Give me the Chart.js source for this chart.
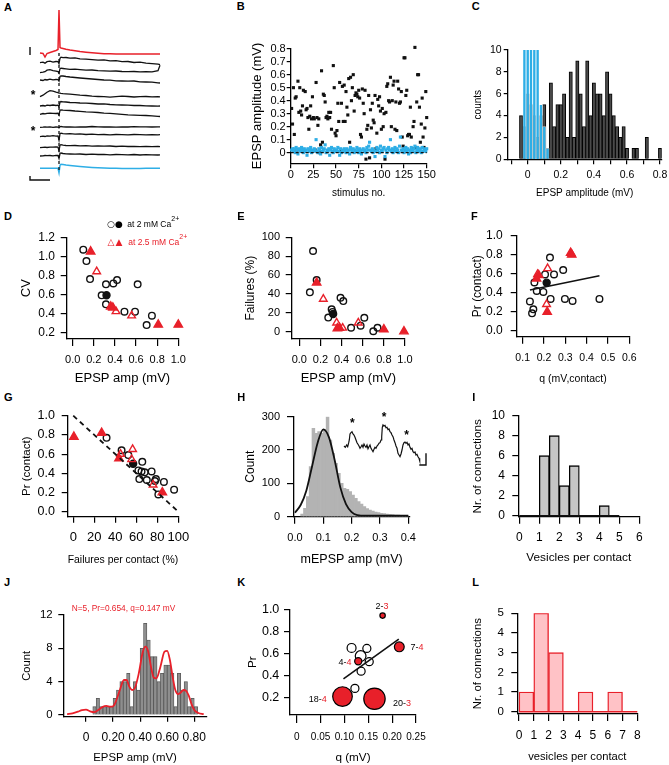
<!DOCTYPE html>
<html>
<head>
<meta charset="utf-8">
<script src="https://cdn.jsdelivr.net/npm/chart.js@4.4.1/dist/chart.umd.min.js"></script>
<style>
  html, body { margin: 0; padding: 0; background: #fff; overflow: hidden; }
  #fig { position: relative; width: 669px; height: 765px; font-family: 'Liberation Sans', Arial, sans-serif; color: #000; }
  #fig canvas { position: absolute; }
  .txt { position: absolute; line-height: 1; white-space: nowrap; }
</style>
</head>
<body>
<div id="fig"></div>
<script>
/* ---------- data ---------- */

// A: example sweeps, sampled at aTimes (ms), amplitudes relative to each sweep baseline
const aTimes = [0,3,5,7,10,13,16,18,19,20,21,23,26,30,35,40,46,52,58,64,70,76,82,88,94,100,106,112,118,120];
const aPreAP = [0,-0.05,-0.4,-0.05,0.05,0.15,0.25,0.35,4.3,0.55,0.5,0.45,0.38,0.3,0.22,0.15,0.08,0.02,-0.03,-0.07,-0.08,-0.1,-0.1,-0.1,-0.1,-0.1,-0.1,-0.1,-0.1,-0.1];
const aSweeps = [
  [0,0.05,-0.05,0.1,0.15,0.05,0.12,0.1,-0.1,0.45,0.55,0.5,0.52,0.45,0.48,0.38,0.35,0.3,0.25,0.28,0.18,0.2,0.1,0.12,0.02,0.05,-0.05,-0.1,-0.15,-0.2],
  [0,0.05,0.1,0.25,0.3,0.2,0.15,0.12,-0.05,0.4,0.45,0.42,0.38,0.33,0.35,0.3,0.25,0.27,0.2,0.18,0.15,0.17,0.12,0.1,0.12,0.08,0.1,0.08,0.2,0.75],
  [0,-0.05,0.05,0,0.08,0.02,0.05,0.03,-0.12,0.35,0.42,0.4,0.35,0.3,0.25,0.2,0.15,0.1,0.05,0,-0.02,-0.08,-0.1,-0.12,-0.1,-0.18,-0.2,-0.22,-0.28,-0.3],
  [0,0.15,0.3,0.45,0.6,0.55,0.45,0.4,0.35,0.35,0.33,0.3,0.28,0.25,0.2,0.15,0.12,0.05,0.02,0,-0.05,0,0.05,0.02,-0.03,0,0.02,-0.02,0,-0.02],
  [0,0.05,0,0.08,0.05,0.1,0.05,0.08,-0.1,0.38,0.45,0.42,0.4,0.35,0.33,0.3,0.28,0.25,0.2,0.22,0.15,0.12,0.1,0.08,0.05,0.05,0.02,0,-0.02,0],
  [0,0.08,0.05,0.1,0.12,0.1,0.08,0.1,-0.08,0.4,0.45,0.42,0.4,0.38,0.33,0.3,0.25,0.22,0.18,0.12,0.1,0.05,0,-0.05,-0.08,-0.1,-0.12,-0.15,-0.2,-0.22],
  [0,0.02,0.05,0.02,0.05,0,0.03,0.02,-0.05,0.05,0.08,0.05,0.03,0.05,0.02,0.05,0.03,0.08,0.05,0.03,0.05,0.02,0.05,0.03,0.06,0.04,0.05,0.03,0.05,0.05],
  [0,0.05,0.02,0.08,0.05,0.1,0.05,0.08,-0.35,0.3,0.35,0.3,0.28,0.3,0.25,0.28,0.22,0.25,0.2,0.22,0.18,0.22,0.2,0.18,0.22,0.2,0.18,0.2,0.18,0.2],
  [0,0.03,0.05,0.02,0.06,0.05,0.08,0.05,-0.3,0.25,0.3,0.25,0.22,0.2,0.22,0.18,0.2,0.15,0.18,0.15,0.17,0.12,0.15,0.12,0.14,0.1,0.12,0.1,0.12,0.1],
  [0,0.02,0.05,0.03,0.05,0.02,0.06,0.05,-0.25,0.25,0.3,0.25,0.22,0.2,0.18,0.2,0.15,0.18,0.15,0.16,0.12,0.15,0.13,0.12,0.15,0.1,0.13,0.12,0.1,0.12]
];
const aAverage = [0,0,0,0,0,0,0,0,-0.45,0.3,0.4,0.38,0.33,0.28,0.22,0.17,0.12,0.08,0.05,0.03,0.01,0,-0.02,-0.02,-0.02,-0.01,0,0,0,0];
const aPreBase = -3.8;
const aSweepBase = [-4.77,-5.77,-6.5,-8.17,-9.1,-9.93,-11.23,-12.17,-13.27,-14.1];
const aAverageBase = -15.33;
const aStimLine = [[19,-3.8],[19,-15.7]];
const aBarTop = [[-10,-3.2],[-10,-4.0]];
const aBarBottom = [[-10,-16.1],[-10,-16.5],[10,-16.5]];

// B: EPSP amplitude per stimulus (black) and baseline noise (blue)
const bResponse = [
  0.34,0.22,0.50,0.14,0.42,0.43,0.02,0.55,0.31,0.50,
  0.32,0.29,0.36,0.48,0.01,0.47,0.33,0.34,0.27,0.18,
  0.28,0.36,0.26,0.43,0.27,0.26,0.02,0.54,0.27,0.21,
  0.26,0.00,0.06,0.63,0.08,0.45,0.44,0.39,0.27,0.28,
  0.26,0.31,0.27,0.31,0.18,0.01,0.67,0.50,0.15,0.13,
  0.17,0.38,0.24,0.54,0.01,0.38,0.51,0.24,0.52,0.24,
  0.47,0.35,0.29,0.57,0.08,0.58,0.40,0.50,0.60,0.32,
  0.44,0.46,0.45,0.43,0.48,0.42,0.14,0.12,0.49,0.38,
  0.30,0.48,-0.05,0.18,0.21,0.44,-0.04,0.33,0.19,0.38,
  0.25,0.23,0.44,0.03,0.15,0.41,0.36,0.43,0.32,0.18,
  0.34,0.20,0.30,-0.05,0.31,0.51,0.53,0.40,0.39,0.58,
  0.20,0.40,0.52,0.55,0.18,0.39,0.17,0.55,0.49,0.38,
  0.39,0.47,0.12,0.05,0.73,0.73,0.44,0.48,0.13,0.14,
  0.14,0.35,0.12,0.03,0.20,0.24,0.81,0.04,0.39,0.60,
  0.60,0.35,0.08,0.22,0.42,0.12,0.04,0.19,0.47,0.27
];
const bNoise = [
  0.02,0.03,0.01,0.03,0.00,0.04,0.02,-0.01,0.03,0.02,
  0.01,0.04,0.02,0.00,0.03,0.01,0.02,-0.02,0.03,0.01,
  0.02,0.04,0.00,0.02,0.01,0.03,0.02,0.10,0.01,0.00,
  0.03,0.02,-0.01,0.04,0.01,0.02,0.03,0.06,0.00,0.02,
  0.01,0.03,-0.02,0.02,0.04,0.01,0.00,0.03,0.02,0.01,
  0.02,0.04,0.01,-0.02,0.03,0.00,0.02,0.01,0.03,0.02,
  0.00,0.03,0.01,0.02,-0.01,0.04,0.02,0.01,0.03,0.00,
  0.02,0.01,0.04,0.02,0.00,0.03,0.01,-0.01,0.02,0.03,
  0.01,0.02,0.00,0.04,0.02,0.05,0.08,0.02,0.01,0.03,
  0.00,0.02,-0.03,0.01,0.04,0.02,0.03,0.00,0.05,0.02,
  0.01,0.03,0.04,-0.03,0.02,0.00,0.03,0.04,0.02,0.10,
  0.01,0.03,0.00,0.02,0.04,0.01,0.03,0.02,0.00,0.05,
  0.12,0.02,0.01,0.03,0.00,0.02,0.04,0.01,0.03,-0.01,
  0.02,0.00,0.04,0.02,0.01,0.03,0.05,0.00,0.02,0.04,
  0.01,0.03,0.02,0.00,0.04,0.01,0.03,0.02,0.01,0.03
];
const bZeroLine = [[0,0],[150,0]];

// C: amplitude histograms
const cBins = [-0.04,-0.02,0,0.02,0.04,0.06,0.08,0.10,0.12,0.14,0.16,0.18,0.20,0.22,0.24,0.26,0.28,0.30,0.32,0.34,0.36,0.38,0.40,0.42,0.44,0.46,0.48,0.50,0.52,0.54,0.56,0.58,0.60,0.62,0.64,0.66,0.68,0.70,0.72,0.74,0.76,0.78,0.80];
const cResponse = [4,3,6,5,4,2,4,5,1,7,3,5,5,6,2,8,2,9,6,3,9,4,7,6,6,4,8,6,4,3,2,3,1,0,1,1,0,0,2,0,0,0,1];
const cNoiseBins = [-0.04,-0.02,0,0.02,0.04,0.06,0.08,0.10,0.12];
const cNoise = [0,14,22,25,18,12,5,3,1];

// D-G: per connection values (x, y); 2 mM and 2.5 mM Ca2+
const dOpen2 = [[0.10,1.07],[0.13,0.95],[0.164,0.76],[0.274,0.59],[0.315,0.705],[0.315,0.495],[0.385,0.715],[0.42,0.75],[0.49,0.418],[0.59,0.418],[0.615,0.705],[0.70,0.277],[0.75,0.375]];
const dMean2 = [[0.32,0.59]];
const dOpen25 = [[0.227,0.84],[0.41,0.42],[0.558,0.375]];
const dFilled25 = [[0.17,1.05],[0.36,0.47],[0.38,0.46],[0.81,0.28],[1.0,0.28]];

const eOpen2 = [[0.13,85.5],[0.10,41.7],[0.164,54.8],[0.306,23.7],[0.315,21],[0.274,15],[0.39,36],[0.416,32.5],[0.49,4.2],[0.58,6.4],[0.615,14.8],[0.70,0.5],[0.74,4.2]];
const eMean2 = [[0.32,18.7]];
const eOpen25 = [[0.227,34.6],[0.353,9.5],[0.41,4],[0.558,9.5]];
const eFilled25 = [[0.164,52],[0.36,3.5],[0.38,4],[0.80,2.5],[0.99,0.3]];

const fOpen2 = [[0.134,0.31],[0.15,0.227],[0.144,0.185],[0.155,0.51],[0.166,0.42],[0.197,0.41],[0.205,0.594],[0.228,0.77],[0.231,0.336],[0.247,0.594],[0.29,0.64],[0.298,0.336],[0.334,0.315],[0.46,0.336]];
const fMean2 = [[0.2125,0.507]];
const fOpen25 = [[0.17,0.594],[0.217,0.657],[0.212,0.28]];
const fFilled25 = [[0.165,0.55],[0.175,0.585],[0.215,0.2],[0.325,0.82],[0.33,0.80]];
const fFit = [[0.134,0.43],[0.46,0.58]];

const gOpen2 = [[31.7,0.77],[46,0.64],[52.4,0.59],[65.7,0.52],[62,0.43],[62.9,0.34],[65,0.42],[68,0.41],[70,0.33],[74.6,0.42],[77.8,0.32],[78.7,0.34],[81,0.18],[86.3,0.31],[96,0.23]];
const gMean2 = [[57,0.50]];
const gOpen25 = [[45,0.60],[56.5,0.65],[55.6,0.545],[76,0.28]];
const gFilled25 = [[0.6,0.78],[27,0.82],[43.5,0.555],[84.8,0.20]];
const gIdentity = [[0,1.0],[100,0.0]];

// H: mEPSP amplitude histogram, gaussian fit, inset trace
const hBins = [0.025,0.035,0.045,0.055,0.065,0.075,0.085,0.095,0.105,0.115,0.125,0.135,0.145,0.155,0.165,0.175,0.185,0.195,0.205,0.215,0.225,0.235,0.245,0.255,0.265,0.275,0.285,0.295,0.305,0.315,0.325,0.335,0.345,0.355,0.365,0.375,0.385,0.395];
const hCounts = [8,25,60,150,265,250,255,250,262,300,230,190,160,130,100,85,82,75,65,55,45,38,30,24,20,17,14,12,10,9,8,7,6,5,5,4,3,3];
const hFit = [[0,12],[0.02,35],[0.04,78],[0.06,150],[0.08,222],[0.1,262],[0.12,238],[0.14,170],[0.16,88],[0.18,38],[0.2,14],[0.22,5],[0.25,3],[0.3,3],[0.35,3],[0.4,3]];
const hInsetT = [0,1.3,2.7,3.7,4.7,5.3,6,7,8,9,10,11,12,13,14,15,16,17,18,19,20,21,22,23,24,25,26,27,28,29,30,31,32,33,34,35,36,37,37.7,38.3,39,40,41,42,43,44,45,46,47,48,49,50,51,52,53,54,55,56,57,58,59,60,61,62,63,64,65,66,67,68,69,70,71,72,73,74,75,75.7];
const hInsetV = [0,-1.3,1,-0.7,3.3,6,12,13.3,14.3,12,11,8.7,6,3.3,1.7,0,-2.3,-0.7,1,-1.3,2,0,-1.3,1,-2.7,-0.7,1,-2.3,-4,-5.7,-3.3,-1.3,-2.3,0,1,2.7,3.3,6,9.3,18.7,21,20,20.7,18.3,18.7,16.3,17,14.3,13.3,11,9.3,6,3.3,0,-2.3,-7.3,-9,-10.7,-8,-4,1,3.3,4,2.7,3.7,1,2,-1.3,-3.3,-2.3,-5.7,-6.7,-6,-9,-8.3,-10.7,-12.3,-14.7];
const hInsetBar = [[75.3,-19],[82,-19],[82,-7.3]];

// I: vesicles per contact
const iBins = [0.25,0.75,1.25,1.75,2.25,2.75,3.25,3.75,4.25,4.75];
const iCounts = [0,0,6,8,3,5,0,0,1,0];
const iBaseline = [[0,0],[5,0]];

// J: EPSP amplitude histogram with binomial fit
const jBins = [0.0625,0.0875,0.1125,0.1375,0.1625,0.1875,0.2125,0.2375,0.2625,0.2875,0.3125,0.3375,0.3625,0.3875,0.4125,0.4375,0.4625,0.4875,0.5125,0.5375,0.5625,0.5875,0.6125,0.6375,0.6625,0.6875,0.7125,0.7375,0.7625,0.7875,0.8125];
const jCounts = [1,2,1,1,1,1,2,3,4,4,5,1,4,3,8,11,9,7,7,4,5,6,6,5,1,5,3,4,1,2,1];
const jFit = [[-0.14,0.1],[-0.1,0.2],[-0.06,0.4],[-0.03,0.6],[0,0.65],[0.03,0.45],[0.06,0.35],[0.09,0.6],[0.12,0.95],[0.15,1.1],[0.18,1.0],[0.2,1.05],[0.22,1.6],[0.25,3.0],[0.28,4.2],[0.3,4.2],[0.32,3.4],[0.34,3.0],[0.36,3.2],[0.39,5.0],[0.42,7.6],[0.44,8.2],[0.46,7.6],[0.48,5.8],[0.5,4.5],[0.52,4.4],[0.55,5.8],[0.58,7.6],[0.6,7.7],[0.62,6.6],[0.64,4.6],[0.66,3.0],[0.68,2.5],[0.7,2.7],[0.72,3.0],[0.74,2.9],[0.76,2.3],[0.78,1.3],[0.8,0.6],[0.83,0.25],[0.87,0.1]];

// K: q vs Pr, bubble size = number of contacts
const kFilled = [[0.18,0.943],[0.215,0.66],[0.129,0.53],[0.096,0.21],[0.163,0.19]];
const kFilledN = [2,7,4,18,20];
const kFilledM = [3,4,4,4,3];
const kOpen = [[0.115,0.65],[0.147,0.646],[0.134,0.577],[0.152,0.526],[0.135,0.44],[0.122,0.284]];
const kOpenN = [6,5,8,5,5,5];
const kFit = [[0.098,0.37],[0.214,0.73]];

// L: vesicles per contact (2.5 mM)
const lBins = [0.5,1.5,2.5,3.5,4.5,5.5,6.5,7.5];
const lCounts = [1,5,3,0,1,0,1,0];
const lBaseline = [[0,0],[8,0]];

/* ---------- helpers ---------- */
const RED = '#e8202a', BLUE = '#2eaee6', INK = '#111';
const fig = document.getElementById('fig');
Chart.defaults.font.family = "'Liberation Sans', Arial, sans-serif";
Chart.defaults.color = '#000';

const pts = arr => arr.map(([x, y]) => ({ x, y }));
const zip = (xs, ys) => xs.map((x, i) => ({ x, y: ys[i] }));

function scat(arr, style, color, filled, r) {
  return { type: 'scatter', data: pts(arr), pointStyle: style, pointRadius: r,
    pointBorderColor: color, pointBackgroundColor: filled ? color : 'rgba(0,0,0,0)',
    pointBorderWidth: 1.4, showLine: false, clip: false };
}
function line(data, color, width, dash, smooth) {
  return { type: 'line', data: data, borderColor: color, borderWidth: width, borderDash: dash || [],
    pointRadius: 0, fill: false, tension: 0, cubicInterpolationMode: smooth ? 'monotone' : 'default', clip: false };
}
function bars(xs, ys, fillC, edge, bw, extra) {
  return Object.assign({ type: 'bar', data: zip(xs, ys), backgroundColor: fillC, borderColor: edge,
    borderWidth: bw, barPercentage: 1, categoryPercentage: 1, grouped: false }, extra || {});
}
function put(html, x, y, size, o) {
  o = o || {};
  const d = document.createElement('div');
  d.className = 'txt';
  d.innerHTML = html;
  d.style.left = x + 'px';
  d.style.top = y + 'px';
  d.style.fontSize = size + 'px';
  if (o.color) d.style.color = o.color;
  if (o.bold) d.style.fontWeight = 'bold';
  if (o.font) d.style.fontFamily = o.font;
  d.style.transform = o.center ? 'translate(-50%,-50%)' : 'translateY(-50%)';
  fig.appendChild(d);
}
function canvasAt(left, top, w, h) {
  const cv = document.createElement('canvas');
  cv.width = w; cv.height = h;
  cv.style.left = left + 'px'; cv.style.top = top + 'px';
  cv.style.width = w + 'px'; cv.style.height = h + 'px';
  fig.appendChild(cv);
  return cv;
}
function axis(s, fixed) {
  return {
    type: 'linear', min: s.min, max: s.max, offset: false,
    afterBuildTicks: sc => { sc.ticks = s.ticks.map(v => ({ value: v })); },
    afterFit: sc => { if (sc.isHorizontal()) sc.height = fixed; else sc.width = fixed; },
    ticks: { autoSkip: false, maxRotation: 0, minRotation: 0, padding: s.pad, color: '#000',
      font: { size: s.size }, callback: (v, i) => s.labels[i] },
    grid: { offset: false, drawOnChartArea: false, drawTicks: true, tickLength: s.tl, color: '#000', lineWidth: 1.2 },
    border: { display: true, color: '#000', width: 1.3 },
    title: { display: true, text: s.title, color: '#000', font: { size: s.titleSize }, padding: 0 }
  };
}
// hidden scale for traces/insets; range set after data limits so marks past the edge are still drawn
function hiddenAxis(min, max) {
  return { type: 'linear', display: false, bounds: 'data', offset: false, grid: { offset: false },
    afterDataLimits: sc => { sc.min = min; sc.max = max; } };
}
// area = [left, top, right, bottom] of the plot frame on the page
function panel(p) {
  const [l, t, r, b] = p.area;
  const cl = Math.round(p.y.titleX - 0.6 * p.y.titleSize);
  const cb = Math.round(p.x.titleY + 0.6 * p.x.titleSize);
  const ct = Math.round(t - 22), cr = Math.round(r + 24);
  const cv = canvasAt(cl, ct, cr - cl, cb - ct);
  const scales = Object.assign({ x: axis(p.x, cb - b), y: axis(p.y, l - cl) }, p.extraScales || {});
  return new Chart(cv, {
    type: p.type, data: { datasets: p.datasets },
    options: {
      responsive: false, animation: false, devicePixelRatio: 1, events: [],
      layout: { autoPadding: false, padding: { left: 0, top: t - ct, right: cr - r, bottom: 0 } },
      plugins: { legend: { display: false }, tooltip: { enabled: false } },
      scales: scales
    }
  });
}
const fmt = (vals, d) => vals.map(v => v.toFixed(d));

/* ---------- A: traces ---------- */
(function () {
  const cv = canvasAt(25, 0, 140, 190);
  const ds = [];
  ds.push(line(pts(aStimLine), INK, 1.3, [3, 3]));
  ds.push(line(aTimes.map((t, k) => ({ x: t, y: aPreBase + aPreAP[k] })), RED, 1.5));
  aSweeps.forEach((sw, i) => ds.push(line(aTimes.map((t, k) => ({ x: t, y: aSweepBase[i] + sw[k] })), INK, 1.3)));
  ds.push(line(aTimes.map((t, k) => ({ x: t, y: aAverageBase + aAverage[k] })), BLUE, 1.5));
  ds.push(line(pts(aBarTop), INK, 1.4));
  ds.push(line(pts(aBarBottom), INK, 1.4));
  new Chart(cv, {
    type: 'line', data: { datasets: ds },
    options: {
      responsive: false, animation: false, devicePixelRatio: 1, events: [],
      layout: { autoPadding: false, padding: { left: 3, top: 5, right: 5, bottom: 5 } },
      plugins: { legend: { display: false }, tooltip: { enabled: false } },
      scales: { x: hiddenAxis(-12, 120), y: hiddenAxis(-17, 1) }
    }
  });
})();

/* ---------- B ---------- */
panel({
  type: 'scatter', area: [290.7, 48.7, 426.7, 163.3],
  x: { min: 0, max: 150, ticks: [0,25,50,75,100,125,150], labels: ['0','25','50','75','100','125','150'],
       size: 11, tl: 5, pad: 0.5, title: 'stimulus no.', titleSize: 10, titleY: 192.7 },
  y: { min: -0.082, max: 0.8, ticks: [0,0.1,0.2,0.3,0.4,0.5,0.6,0.7,0.8],
       labels: ['0','0.1','0.2','0.3','0.4','0.5','0.6','0.7','0.8'],
       size: 11, tl: 4, pad: 1, title: 'EPSP amplitude (mV)', titleSize: 13, titleX: 258 },
  datasets: [
    line(pts(bZeroLine), INK, 1.1, [3, 2]),
    { type: 'scatter', data: bNoise.map((v, i) => ({ x: i + 1, y: v })), pointStyle: 'rect', pointRadius: 2.2,
      pointBorderWidth: 0, pointBackgroundColor: BLUE, clip: false },
    { type: 'scatter', data: bResponse.map((v, i) => ({ x: i + 1, y: v })), pointStyle: 'rect', pointRadius: 2.2,
      pointBorderWidth: 0, pointBackgroundColor: INK, clip: false }
  ]
});

/* ---------- C ---------- */
panel({
  type: 'bar', area: [507.7, 50, 661.7, 159.3],
  x: { min: -0.121, max: 0.81, ticks: [-0.1,0,0.1,0.2,0.3,0.4,0.5,0.6,0.7,0.8],
       labels: ['','0','','0.2','','0.4','','0.6','','0.8'],
       size: 10.5, tl: 5, pad: 5, title: 'EPSP amplitude (mV)', titleSize: 10, titleY: 192.7 },
  y: { min: 0, max: 10, ticks: [0,2,4,6,8,10], labels: ['0','2','4','6','8','10'],
       size: 10.5, tl: 4, pad: 2, title: 'counts', titleSize: 10, titleX: 478 },
  datasets: [
    bars(cNoiseBins, cNoise, BLUE, 'rgba(255,255,255,0.7)', 0.8, { clip: 0 }),
    bars(cBins, cResponse, '#4a4a4a', '#000', 1, { clip: 0 })
  ]
});

/* ---------- D ---------- */
panel({
  type: 'scatter', area: [66.7, 237.3, 178.3, 339],
  x: { min: -0.057, max: 1.0, ticks: [0,0.2,0.4,0.6,0.8,1.0], labels: fmt([0,0.2,0.4,0.6,0.8,1.0], 1),
       size: 11, tl: 7, pad: 7, title: 'EPSP amp (mV)', titleSize: 13, titleY: 378 },
  y: { min: 0.13, max: 1.2, ticks: [0.2,0.4,0.6,0.8,1.0,1.2], labels: fmt([0.2,0.4,0.6,0.8,1.0,1.2], 1),
       size: 12, tl: 6, pad: 5.7, title: 'CV', titleSize: 13, titleX: 26.7 },
  datasets: [
    scat(dFilled25, 'triangle', RED, true, 4.8),
    scat(dOpen25, 'triangle', RED, false, 4.4),
    scat(dMean2, 'circle', INK, true, 3.5),
    scat(dOpen2, 'circle', INK, false, 3.3)
  ]
});

/* ---------- E ---------- */
panel({
  type: 'scatter', area: [291.7, 237.3, 405, 339],
  x: { min: -0.072, max: 1.0, ticks: [0,0.2,0.4,0.6,0.8,1.0], labels: fmt([0,0.2,0.4,0.6,0.8,1.0], 1),
       size: 11, tl: 7, pad: 7, title: 'EPSP amp (mV)', titleSize: 13, titleY: 378 },
  y: { min: -7.7, max: 100, ticks: [0,20,40,60,80,100], labels: ['0','20','40','60','80','100'],
       size: 11, tl: 6, pad: 5.7, title: 'Failures (%)', titleSize: 12, titleX: 250 },
  datasets: [
    scat(eFilled25, 'triangle', RED, true, 4.8),
    scat(eOpen25, 'triangle', RED, false, 4.4),
    scat(eMean2, 'circle', INK, true, 3.5),
    scat(eOpen2, 'circle', INK, false, 3.3)
  ]
});

/* ---------- F ---------- */
panel({
  type: 'scatter', area: [516.7, 235.7, 629.3, 336.7],
  x: { min: 0.072, max: 0.6, ticks: [0.1,0.2,0.3,0.4,0.5,0.6], labels: fmt([0.1,0.2,0.3,0.4,0.5,0.6], 1),
       size: 10.5, tl: 7, pad: 8.5, title: 'q (mV,contact)', titleSize: 10.5, titleY: 378.3 },
  y: { min: -0.06, max: 1.0, ticks: [0,0.2,0.4,0.6,0.8,1.0], labels: fmt([0,0.2,0.4,0.6,0.8,1.0], 1),
       size: 12, tl: 6, pad: 8, title: 'Pr (contact)', titleSize: 12, titleX: 476.7 },
  datasets: [
    line(pts(fFit), INK, 1.6),
    scat(fFilled25, 'triangle', RED, true, 4.8),
    scat(fOpen25, 'triangle', RED, false, 4.4),
    scat(fMean2, 'circle', INK, true, 3.5),
    scat(fOpen2, 'circle', INK, false, 3.3)
  ]
});

/* ---------- G ---------- */
panel({
  type: 'scatter', area: [67.7, 415.7, 178.3, 516.7],
  x: { min: -5.3, max: 100, ticks: [0,20,40,60,80,100], labels: ['0','20','40','60','80','100'],
       size: 13, tl: 6, pad: 7, title: 'Failures per contact (%)', titleSize: 11.7, titleY: 560 },
  y: { min: -0.052, max: 1.0, ticks: [0,0.2,0.4,0.6,0.8,1.0], labels: fmt([0,0.2,0.4,0.6,0.8,1.0], 1),
       size: 12.5, tl: 6, pad: 6.7, title: 'Pr (contact)', titleSize: 11.5, titleX: 26.7 },
  datasets: [
    line(pts(gIdentity), INK, 1.8, [5, 4]),
    scat(gFilled25, 'triangle', RED, true, 4.8),
    scat(gOpen25, 'triangle', RED, false, 4.4),
    scat(gMean2, 'circle', INK, true, 3.5),
    scat(gOpen2, 'circle', INK, false, 3.3)
  ]
});

/* ---------- H ---------- */
panel({
  type: 'bar', area: [294, 416.7, 409.3, 516.7],
  x: { min: -0.0035, max: 0.4035, ticks: [0,0.1,0.2,0.3,0.4], labels: fmt([0,0.1,0.2,0.3,0.4], 1),
       size: 11, tl: 7, pad: 7.7, title: 'mEPSP amp (mV)', titleSize: 12.5, titleY: 559.3 },
  y: { min: 0, max: 300, ticks: [0,100,200,300], labels: ['0','100','200','300'],
       size: 11, tl: 7, pad: 7, title: 'Count', titleSize: 12, titleX: 250 },
  extraScales: { x2: hiddenAxis(-50, 65.3), y2: hiddenAxis(-70.7, 29.3) },
  datasets: [
    line(pts(hFit), INK, 1.8, null, true),
    Object.assign(line(zip(hInsetT, hInsetV), INK, 1.2), { xAxisID: 'x2', yAxisID: 'y2' }),
    Object.assign(line(pts(hInsetBar), INK, 1.4), { xAxisID: 'x2', yAxisID: 'y2' }),
    bars(hBins, hCounts, '#b3b3b3', '#b3b3b3', 0)
  ]
});

/* ---------- I ---------- */
panel({
  type: 'bar', area: [518.3, 415.7, 639.3, 516.7],
  x: { min: -0.05, max: 6, ticks: [0,1,2,3,4,5,6], labels: ['0','1','2','3','4','5','6'],
       size: 12, tl: 7, pad: 6.8, title: 'Vesicles per contact', titleSize: 11.8, titleY: 557.7 },
  y: { min: -0.1, max: 10, ticks: [0,2,4,6,8,10], labels: ['0','2','4','6','8','10'],
       size: 12, tl: 6, pad: 7.3, title: 'Nr. of connections', titleSize: 11.8, titleX: 478.3 },
  datasets: [
    line(pts(iBaseline), INK, 1.4),
    bars(iBins, iCounts, '#c6c6c6', '#000', 1.3)
  ]
});

/* ---------- J ---------- */
panel({
  type: 'bar', area: [63.3, 615, 206.7, 716.7],
  x: { min: -0.168, max: 0.892, ticks: [0,0.2,0.4,0.6,0.8], labels: ['0','0.20','0.40','0.60','0.80'],
       size: 12, tl: 5, pad: 9, title: 'EPSP amp (mV)', titleSize: 11.4, titleY: 757.7 },
  y: { min: -0.2, max: 12, ticks: [0,4,8,12], labels: ['0','4','8','12'],
       size: 11.4, tl: 5, pad: 5.6, title: 'Count', titleSize: 11.2, titleX: 26.7 },
  datasets: [
    line(pts(jFit), RED, 1.8, null, true),
    bars(jBins, jCounts, '#8e8e8e', '#555', 0.8)
  ]
});

/* ---------- K ---------- */
panel({
  type: 'bubble', area: [290, 609.3, 416, 715],
  x: { min: -0.014, max: 0.25, ticks: [0,0.05,0.1,0.15,0.2,0.25], labels: ['0','0.05','0.10','0.15','0.20','0.25'],
       size: 10, tl: 8, pad: 8.7, title: 'q (mV)', titleSize: 11.7, titleY: 757.7 },
  y: { min: 0.043, max: 1.0, ticks: [0.2,0.4,0.6,0.8,1.0], labels: fmt([0.2,0.4,0.6,0.8,1.0], 1),
       size: 12.5, tl: 6, pad: 4.7, title: 'Pr', titleSize: 11.7, titleX: 253.3 },
  datasets: [
    line(pts(kFit), INK, 1.6),
    { type: 'bubble', data: kFilled.map(([x, y], i) => ({ x, y, r: 1.8 + 0.445 * kFilledN[i] })),
      backgroundColor: RED, borderColor: '#000', borderWidth: 1.2, clip: false },
    { type: 'bubble', data: kOpen.map(([x, y], i) => ({ x, y, r: 1.8 + 0.445 * kOpenN[i] })),
      backgroundColor: '#fff', borderColor: '#000', borderWidth: 1.2, clip: false }
  ]
});

/* ---------- L ---------- */
panel({
  type: 'bar', area: [517.3, 613.3, 637.3, 714],
  x: { min: -0.115, max: 8, ticks: [0,1,2,3,4,5,6,7,8], labels: ['0','1','2','3','4','5','6','7','8'],
       size: 12, tl: 7, pad: 7.8, title: 'vesicles per contact', titleSize: 11.2, titleY: 757.7 },
  y: { min: -0.117, max: 5, ticks: [0,1,2,3,4,5], labels: ['0','1','2','3','4','5'],
       size: 11.5, tl: 6, pad: 7.3, title: 'Nr. of connections', titleSize: 11.4, titleX: 478.3 },
  datasets: [
    line(pts(lBaseline), RED, 1.4),
    bars(lBins, lCounts, '#ffc2c6', RED, 1.4)
  ]
});

/* ---------- text overlays ---------- */
[['A',4,6.7],['B',236.7,6],['C',471.7,6],['D',4,215.7],['E',237.3,216],['F',471,216],
 ['G',4,397.3],['H',237.3,397.3],['I',472.3,397],['J',4,582.3],['K',237.3,582.3],['L',472.3,582.3]]
  .forEach(([s, x, y]) => put(s, x, y, 11, { bold: true }));

// A asterisks
put('*', 33, 92 + 2.6, 12, { center: true, bold: true });
put('*', 33, 128 + 2.6, 12, { center: true, bold: true });

// D legend
const sym = "'DejaVu Sans', sans-serif";
put('\u25CB', 111, 224.3, 9, { center: true, font: sym });
put('\u25CF', 119, 224.3, 9, { center: true, font: sym });
put('at 2 mM Ca<span style="position:relative;top:-6px;font-size:7px">2+</span>', 127.3, 224.3, 8.5);
put('\u25B3', 111, 242.3, 9, { center: true, font: sym, color: RED });
put('\u25B2', 119, 242.3, 9, { center: true, font: sym, color: RED });
put('at 2.5 mM Ca<span style="position:relative;top:-6px;font-size:7px">2+</span>', 128.3, 242.3, 8.5, { color: RED });

// H asterisks
put('*', 352.3, 420 + 2.6, 12, { center: true, bold: true });
put('*', 384, 414 + 2.6, 12, { center: true, bold: true });
put('*', 406.7, 432.3 + 2.6, 12, { center: true, bold: true });

// J fit parameters
put('N=5, Pr=0.654, q=0.147 mV', 71.7, 608.3, 8.3, { color: RED });

// K bubble labels
const kLabelPos = [[382, 605.7], [417, 647.3], [345, 661.7], [317.7, 699], [402, 703.3]];
kLabelPos.forEach(([x, y], i) =>
  put(kFilledN[i] + '-<span style="color:' + RED + '">' + kFilledM[i] + '</span>', x, y, 9, { center: true }));
</script>
</body>
</html>
